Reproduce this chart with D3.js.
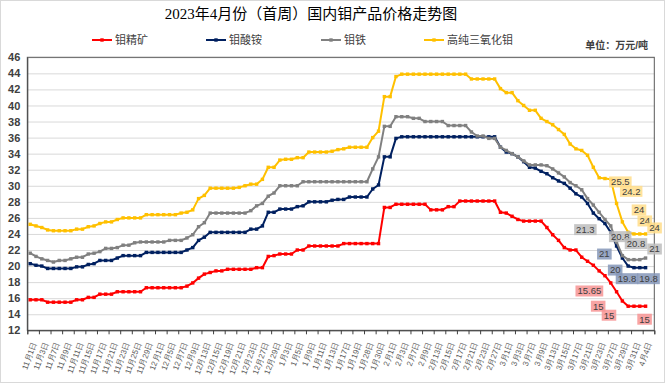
<!DOCTYPE html>
<html>
<head>
<meta charset="utf-8">
<script src="https://cdn.jsdelivr.net/npm/d3@7"></script>
<style>
body { margin: 0; background: #fff; }
svg { display: block; font-family: "Liberation Sans", "Noto Sans CJK SC", sans-serif; }
</style>
</head>
<body>
<div id="chart"></div>
<script>
// trading days, Nov 2022 - Apr 2023
const novDays = [1,2,3,4,7,8,9,10,11,14,15,16,17,18,21,22,23,24,25,28,29,30];
const decDays = [1,2,5,6,7,8,9,12,13,14,15,16,19,20,21,22,23,26,27,28,29,30];
const janDays = [3,4,5,6,9,10,11,12,13,16,17,18,19,20,28,29,30,31];
const febDays = [1,2,3,6,7,8,9,10,13,14,15,16,17,20,21,22,23,24,27,28];
const marDays = [1,2,3,6,7,8,9,10,13,14,15,16,17,20,21,22,23,24,27,28,29,30,31];
const aprDays = [3,4];

const dates = [].concat(
    novDays.map(d => "11月" + d + "日"),
    decDays.map(d => "12月" + d + "日"),
    janDays.map(d => "1月" + d + "日"),
    febDays.map(d => "2月" + d + "日"),
    marDays.map(d => "3月" + d + "日"),
    aprDays.map(d => "4月" + d + "日"),
    [""]   // empty last category on the axis
);

// 钼精矿
const moConc = [15.8,15.8,15.8,15.5,15.5,15.5,15.5,15.5,15.8,15.8,16.1,16.1,16.5,16.5,16.5,16.8,16.8,16.8,16.8,16.8,
    17.3,17.3,17.3,17.3,17.3,17.3,17.3,17.5,17.9,18.5,19.0,19.2,19.4,19.4,19.6,19.6,19.6,19.6,19.6,19.8,
    19.8,21.2,21.3,21.5,21.5,21.5,22.0,22.0,22.5,22.5,22.5,22.5,22.5,22.5,22.8,22.8,22.8,22.8,22.8,22.8,
    22.8,27.3,27.3,27.7,27.7,27.7,27.7,27.7,27.7,27.0,27.0,27.0,27.4,27.4,28.1,28.1,28.1,28.1,28.1,28.1,
    28.1,26.7,26.6,26.2,25.8,25.6,25.6,25.6,25.6,24.8,23.9,23.2,22.3,22.0,22.0,21.1,20.6,20.1,19.4,18.8,
    17.9,16.8,15.65,15,15,15,15];
// 钼酸铵
const ammMolyb = [20.3,20.1,20.0,19.7,19.7,19.7,19.7,19.7,19.9,19.9,20.2,20.3,20.7,20.7,20.7,21.0,21.3,21.3,21.3,21.3,
    21.7,21.7,21.7,21.7,21.7,21.7,21.7,22.0,22.3,23.2,23.6,24.2,24.2,24.2,24.2,24.2,24.2,24.2,24.6,24.6,
    25.0,26.7,26.7,27.1,27.1,27.1,27.4,27.5,28.0,28.0,28.0,28.0,28.2,28.3,28.3,28.6,28.6,28.6,28.6,29.6,
    30.1,33.6,33.6,35.9,36.1,36.1,36.1,36.1,36.1,36.1,36.1,36.1,36.1,36.1,36.1,36.1,36.1,36.1,36.1,36.1,
    36.1,34.8,34.2,34.0,33.6,33.0,32.3,32.2,31.8,31.5,31.0,30.6,30.3,29.7,29.0,28.6,27.8,26.6,25.9,25.3,
    24.2,22.5,21,20,19.8,19.8,19.8];
// 钼铁
const feMo = [21.6,21.2,20.9,20.7,20.5,20.7,20.7,20.9,21.1,21.1,21.5,21.6,21.8,22.2,22.2,22.3,22.6,22.6,22.9,23.0,
    23.0,23.0,23.0,23.0,23.2,23.2,23.2,23.5,23.9,24.9,25.4,26.6,26.6,26.6,26.6,26.6,26.6,26.6,26.9,27.5,
    27.8,28.7,29.1,30.0,30.0,30.0,30.0,30.5,30.5,30.5,30.5,30.5,30.5,30.5,30.5,30.5,30.5,30.5,30.5,32.1,
    33.6,37.4,37.4,38.6,38.6,38.6,38.4,38.4,38.0,38.0,38.0,38.0,37.5,37.5,37.5,37.5,36.7,36.2,36.2,35.9,
    35.9,34.8,34.4,34.0,33.6,33.1,32.6,32.6,32.6,32.5,32.1,31.6,31.1,30.4,30.0,29.5,28.4,27.6,26.7,25.8,
    25.0,23.0,21.3,20.8,20.8,20.8,21];
// 高纯三氧化钼
const moO3 = [25.2,25.0,24.8,24.5,24.4,24.4,24.4,24.4,24.6,24.6,24.9,25.0,25.3,25.5,25.5,25.8,26.0,26.0,26.0,26.0,
    26.4,26.4,26.4,26.4,26.4,26.4,26.6,26.7,27.0,28.4,28.8,29.7,29.7,29.7,29.7,29.7,29.8,30.0,30.2,30.2,
    30.8,32.3,32.3,33.2,33.3,33.3,33.5,33.5,34.2,34.2,34.2,34.2,34.3,34.5,34.6,34.8,34.8,34.8,34.8,36.0,
    36.8,41.1,41.1,43.6,43.9,43.9,43.9,43.9,43.9,43.9,43.9,43.9,43.9,43.9,43.9,43.9,43.3,43.3,43.3,43.3,
    43.3,42.1,41.6,41.6,40.6,40.0,39.4,39.4,38.4,38.0,37.6,37.0,36.4,35.2,34.6,34.4,33.8,32.3,31.0,30.9,
    30.8,27.8,25.5,24.2,24,24,24];

const seriesNames = ["钼精矿", "钼酸铵", "钼铁", "高纯三氧化钼"];
const seriesData = [moConc, ammMolyb, feMo, moO3];
const yTicks = d3.range(12, 47, 2);

const colors = ["#FF0000", "#002060", "#808080", "#FFC000"];
const labelFills = ["#F79494", "#8597B8", "#BDBDBD", "#FFDD8A"];

// hand placed value labels at the end of each line (offsets from the point, px)
const pointLabels = [
    {s: 3, i: 102, dx: -2, dy: -40}, {s: 3, i: 103, dx: 3, dy: -41}, {s: 3, i: 104, dx: 5, dy: -24},
    {s: 3, i: 105, dx: 5, dy: -13}, {s: 3, i: 106, dx: 9, dy: -6},
    {s: 2, i: 102, dx: -37, dy: -26}, {s: 2, i: 103, dx: -8, dy: -23}, {s: 2, i: 104, dx: 2, dy: -16},
    {s: 2, i: 106, dx: 9, dy: -9},
    {s: 1, i: 102, dx: -18, dy: -4}, {s: 1, i: 103, dx: -13, dy: 4}, {s: 1, i: 104, dx: -7, dy: 11},
    {s: 1, i: 106, dx: 3, dy: 11},
    {s: 0, i: 102, dx: -33, dy: -10}, {s: 0, i: 103, dx: -30, dy: 0}, {s: 0, i: 104, dx: -25, dy: 9},
    {s: 0, i: 106, dx: -1, dy: 13}
];

const width = 665, height = 383;
const plot = {left: 27.3, right: 654.3, top: 57.3, bottom: 330.3};

const svg = d3.select("#chart").append("svg")
    .attr("width", width)
    .attr("height", height);

svg.append("rect")
    .attr("x", 0.5).attr("y", 0.5)
    .attr("width", width - 1).attr("height", height - 1)
    .attr("fill", "#fff").attr("stroke", "#d9d9d9");

const x = d3.scaleBand()
    .domain(d3.range(dates.length))
    .range([plot.left, plot.right]);
const xEdge = d3.scaleLinear()
    .domain([0, dates.length])
    .range([plot.left, plot.right]);
const y = d3.scaleLinear()
    .domain([12, 46])
    .range([plot.bottom, plot.top]);
const cx = (i) => x(i) + x.bandwidth() / 2;

// gridlines
svg.append("g")
    .attr("transform", `translate(${plot.left},0)`)
    .call(d3.axisLeft(y).tickValues(yTicks).tickSize(-(plot.right - plot.left)).tickFormat(""))
    .call(g => g.select(".domain").remove())
    .call(g => g.selectAll("line").attr("stroke", "#d9d9d9"));

// plot frame
svg.append("rect")
    .attr("x", plot.left).attr("y", plot.top)
    .attr("width", plot.right - plot.left).attr("height", plot.bottom - plot.top)
    .attr("fill", "none").attr("stroke", "#595959").attr("stroke-width", 1);

// y axis labels
svg.append("g")
    .attr("transform", `translate(${plot.left},0)`)
    .call(d3.axisLeft(y).tickValues(yTicks).tickSize(0).tickPadding(7))
    .call(g => g.select(".domain").attr("stroke", "#404040"))
    .call(g => g.selectAll("text")
        .attr("fill", "#404040")
        .attr("font-size", "11px")
        .attr("font-weight", "bold"));

// x axis ticks (every second category boundary)
svg.append("g")
    .attr("transform", `translate(0,${plot.bottom})`)
    .call(d3.axisBottom(xEdge).tickValues(d3.range(0, dates.length + 1, 2)).tickSize(4).tickFormat(""))
    .call(g => g.select(".domain").attr("stroke", "#404040"))
    .call(g => g.selectAll("line").attr("stroke", "#404040"));

// x axis labels
svg.append("g")
    .attr("transform", `translate(0,${plot.bottom})`)
    .call(d3.axisBottom(x).tickValues(d3.range(0, dates.length, 2)).tickSize(0).tickFormat(i => dates[i]))
    .call(g => g.select(".domain").remove())
    .call(g => g.selectAll("text")
        .attr("y", 0).attr("dy", "0.35em")
        .attr("transform", "translate(4,12) rotate(-70)")
        .attr("text-anchor", "end")
        .attr("fill", "#595959")
        .attr("font-size", "8px"));

// lines
const line = d3.line()
    .defined(d => d != null)
    .x((d, i) => cx(i))
    .y(d => y(d));

seriesData.forEach((vals, s) => {
    const g = svg.append("g");
    g.append("path")
        .datum(vals)
        .attr("fill", "none")
        .attr("stroke", colors[s])
        .attr("stroke-width", 2)
        .attr("stroke-linejoin", "round")
        .attr("d", line);
    g.selectAll("rect")
        .data(vals)
        .join("rect")
        .attr("x", (d, i) => cx(i) - 1.7)
        .attr("y", d => y(d) - 1.7)
        .attr("width", 3.4)
        .attr("height", 3.4)
        .attr("fill", colors[s]);
});

// value labels
const labelG = svg.append("g").attr("font-size", "9.5px");
pointLabels.forEach(p => {
    const v = seriesData[p.s][p.i];
    const lx = cx(p.i) + p.dx, ly = y(v) + p.dy;
    const t = labelG.append("text")
        .attr("x", lx).attr("y", ly)
        .attr("dy", "0.35em")
        .attr("text-anchor", "middle")
        .attr("fill", "#404040")
        .text(v);
    const w = t.node().getComputedTextLength();
    labelG.insert("rect", () => t.node())
        .attr("x", lx - w / 2 - 2).attr("y", ly - 5.5)
        .attr("width", w + 4).attr("height", 11)
        .attr("fill", labelFills[p.s])
        .attr("opacity", 0.85);
});

// title
svg.append("text")
    .attr("x", 311).attr("y", 19)
    .attr("text-anchor", "middle")
    .attr("font-family", "'Liberation Serif', 'Noto Sans CJK SC', serif")
    .attr("font-size", "15px")
    .attr("fill", "#000")
    .text("2023年4月份（首周）国内钼产品价格走势图");

// legend
const legendX = [92, 206, 321, 424];
const legend = svg.append("g").attr("font-size", "11px");
seriesNames.forEach((name, s) => {
    const g = legend.append("g").attr("transform", `translate(${legendX[s]},40)`);
    g.append("line").attr("x1", 0).attr("x2", 20)
        .attr("stroke", colors[s]).attr("stroke-width", 2);
    g.append("rect").attr("x", 8.3).attr("y", -1.7).attr("width", 3.4).attr("height", 3.4)
        .attr("fill", colors[s]);
    g.append("text").attr("x", 23).attr("dy", "0.35em")
        .attr("fill", "#404040").text(name);
});

svg.append("text")
    .attr("x", 648).attr("y", 49)
    .attr("text-anchor", "end")
    .attr("font-size", "10px")
    .attr("font-weight", "bold")
    .attr("fill", "#404040")
    .text("单位：万元/吨");
</script>
</body>
</html>
